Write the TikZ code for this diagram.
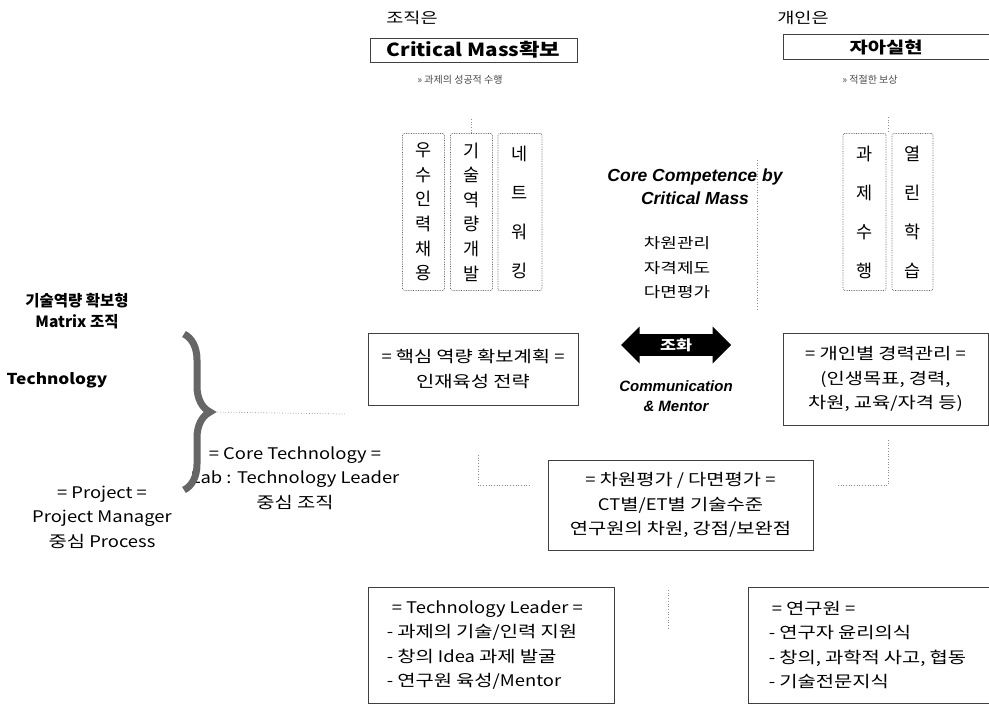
\documentclass[tikz,border=0pt]{standalone}
\usepackage{fontspec}
\setmainfont{Liberation Sans}
\newfontfamily\krL[FakeStretch=1.15]{Noto Sans CJK KR}
\newfontfamily\krH[FakeStretch=1.24]{Noto Sans CJK KR}
\newfontfamily\krN{Noto Sans CJK KR}
\def\hfont{\krH}
\def\lfont{\krL}
\newcount\hgc
\hgc="AC00
\loop \XeTeXcharclass\hgc=1 \advance\hgc by 1 \ifnum\hgc<"D7A4 \repeat
\XeTeXinterchartokenstate=1
\XeTeXinterchartoks 0 1 = {\hfont}
\XeTeXinterchartoks 4095 1 = {\hfont}
\XeTeXinterchartoks 1 0 = {\lfont}
\XeTeXinterchartoks 1 4095 = {\lfont}
\usetikzlibrary{shapes.arrows,decorations.pathreplacing}
\begin{document}
\begin{tikzpicture}[x=1pt,y=-1pt,
  kt/.style={font=\krL\fontsize{16}{24.5}\selectfont, align=center, inner sep=0pt},
  boxd/.style={draw=black!75, line width=0.7pt, inner sep=0pt},
  vbox/.style={draw=black!60, densely dotted, line width=0.7pt, rounded corners=2pt, minimum width=42pt, minimum height=157pt, inner sep=0pt},
  vsix/.style={font=\def\hfont{\krN}\krN\fontsize{17.5}{24.6}\selectfont, align=center, inner sep=0pt},
  vfour/.style={font=\def\hfont{\krN}\krN\fontsize{17.5}{39}\selectfont, align=center, inner sep=0pt},
  faint/.style={draw=black!45, dotted, line width=0.7pt},
  subnote/.style={font=\def\hfont{\krN}\def\lfont{\krN}\krN\fontsize{10}{12}\selectfont, text=black!70, inner sep=0pt},
  bi/.style={font=\bfseries\itshape\fontsize{17.5}{23}\selectfont, align=center, inner sep=0pt}
]
\useasboundingbox (0,0) rectangle (989,707);
\fill[white] (0,0) rectangle (989,707);

% top left
\node[kt, font=\krL\fontsize{15}{18}\selectfont] (org) at (412,18) {조직은};
\node[boxd, minimum width=207pt, minimum height=24pt, font=\krL\bfseries\fontsize{18}{20}\selectfont] (cm) at (473.5,50) {Critical Mass확보};
\node[subnote] (cms) at (460,80) {» 과제의 성공적 수행};

% top right
\node[kt, font=\krL\fontsize{15}{18}\selectfont] (ind) at (803,18) {개인은};
\node[boxd, minimum width=206pt, minimum height=25pt, font=\krL\bfseries\fontsize{16}{20}\selectfont] (ja) at (886,47) {자아실현};
\node[subnote] (jas) at (870,80) {» 적절한 보상};

% vertical boxes
\node[vbox] (v1) at (423.5,212) {};
\node[vsix] at (v1) {우\\수\\인\\력\\채\\용};
\node[vbox] (v2) at (471.5,212) {};
\node[vsix] at (v2) {기\\술\\역\\량\\개\\발};
\node[vbox, minimum width=44pt] (v3) at (520,212) {};
\node[vfour] at (v3) {네\\트\\워\\킹};
\node[vbox, minimum width=43pt] (v4) at (864.5,212) {};
\node[vfour] at (v4) {과\\제\\수\\행};
\node[vbox, minimum width=41pt] (v5) at (912.5,212) {};
\node[vfour] at (v5) {열\\린\\학\\습};

% centre texts
\node[bi] (cc) at (695,187) {Core Competence by\\Critical Mass};
\node[kt, font=\krL\fontsize{14.5}{24.5}\selectfont] (mgmt) at (677,268) {차원관리\\자격제도\\다면평가};

% left side
\node[kt, font=\def\hfont{\krN}\def\lfont{\krN}\krN\bfseries\fontsize{15.5}{21}\selectfont] (mx) at (77,311) {기술역량 확보형\\Matrix 조직};
\node[kt, font=\krL\bfseries\fontsize{15}{18}\selectfont] (tech) at (57,380) {Technology};
\node[kt] (proj) at (102,517) {= Project =\\Project Manager\\중심 Process};
\node[kt] (ct) at (295,478) {= Core Technology =\\Lab : Technology Leader\\중심 조직};

% brace
\draw[black!60, line width=7pt, decorate, decoration={brace, amplitude=26pt}] (184,334) -- (184,490);
\coordinate (btip) at (212,412);
\coordinate (bend) at (345,414);
\draw[faint] (btip) -- (bend);

% middle boxes
\node[boxd, minimum width=210pt, minimum height=72pt] (hx) at (473,369) {};
\node[kt] at (hx) {= 핵심 역량 확보계획 =\\인재육성 전략};

\node[double arrow, fill=black, minimum height=110pt, minimum width=37pt, double arrow head extend=6pt, inner sep=2pt, text=white, font=\krL\bfseries\fontsize{14}{15}\selectfont] (hw) at (676,345) {조화};
\node[bi, font=\bfseries\itshape\fontsize{15}{20}\selectfont] (com) at (676,396) {Communication\\\& Mentor};

\node[boxd, minimum width=205pt, minimum height=92pt] (gi) at (885.5,379) {};
\node[kt] at (gi) {= 개인별 경력관리 =\\(인생목표, 경력,\\차원, 교육/자격 등)};

\node[boxd, minimum width=265pt, minimum height=90pt] (cp) at (680.5,505) {};
\node[kt] at (cp) {= 차원평가 / 다면평가 =\\CT별/ET별 기술수준\\연구원의 차원, 강점/보완점};

% bottom boxes
\node[boxd, minimum width=246pt, minimum height=116pt] (tl) at (491,645) {};
\node[kt, align=left, anchor=west] at ([xshift=19pt]tl.west) {\hspace{5pt}= Technology Leader =\\- 과제의 기술/인력 지원\\- 창의 Idea 과제 발굴\\- 연구원 육성/Mentor};
\node[boxd, minimum width=244pt, minimum height=116pt] (rs) at (870,645) {};
\node[kt, align=left, anchor=west] at ([xshift=21pt]rs.west) {\hspace{3pt}= 연구원 =\\- 연구자 윤리의식\\- 창의, 과학적 사고, 협동\\- 기술전문지식};

% faint dotted connectors
\draw[faint] (v2.north) -- ++(0,-15);
\coordinate (t2a) at (888,117);
\coordinate (t2b) at (888,132);
\draw[faint] (t2a) -- (t2b);
\coordinate (d1a) at (757,160);
\coordinate (d1b) at (757,310);
\draw[faint] (d1a) -- (d1b);
\coordinate (l1a) at (478,455);
\coordinate (l1b) at (530,485);
\draw[faint] (l1a) |- (l1b);
\coordinate (r1a) at (888,440);
\coordinate (r1b) at (838,485);
\draw[faint] (r1a) |- (r1b);
\coordinate (m1a) at (668,590);
\coordinate (m1b) at (668,628);
\draw[faint] (m1a) -- (m1b);
\end{tikzpicture}
\end{document}
